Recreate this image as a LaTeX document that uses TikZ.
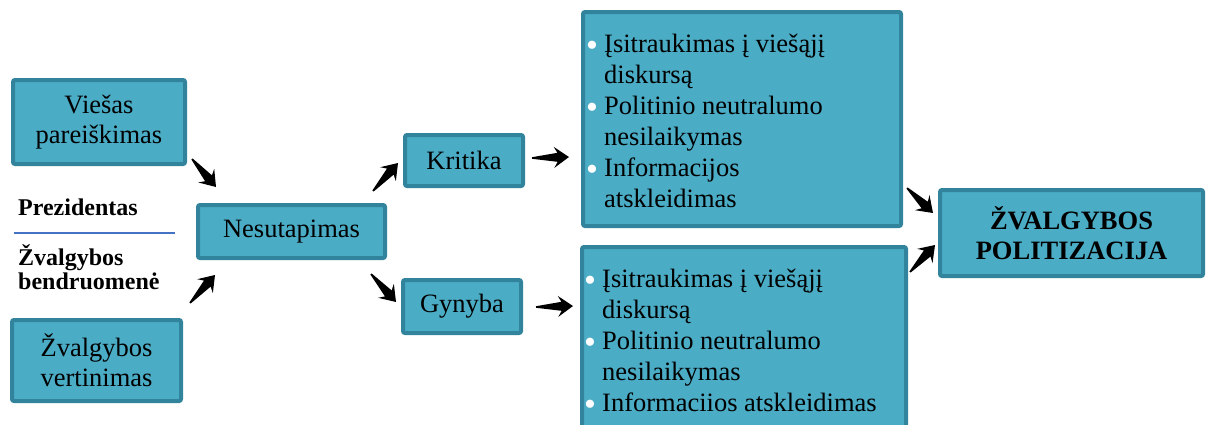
\documentclass[tikz,border=0pt]{standalone}
\usepackage{fontspec}
\setmainfont{LiberationSerif}[Extension=.ttf, UprightFont=*-Regular, BoldFont=*-Bold, ItalicFont=*-Italic, BoldItalicFont=*-BoldItalic]
\usetikzlibrary{calc}
\definecolor{boxfill}{HTML}{4BACC6}
\definecolor{boxline}{HTML}{31849B}
\definecolor{sepline}{HTML}{4472C4}
\newcommand\bul{\makebox[18pt][l]{\raisebox{-4.5pt}{\fontsize{34}{31}\selectfont\textcolor{white}{•}}}}
\newcommand\ind{\hspace*{18pt}}
\newcommand\blockarrow[2]{%
  \path ($(#2)!15pt!(#1)$) coordinate (hb) ($(#2)!11.5pt!(#1)$) coordinate (hs);
  \fill[black] ($(#1)!0.8pt!90:(#2)$) -- ($(hs)!4.5pt!90:(#2)$) -- ($(hb)!10.5pt!90:(#2)$) -- (#2)
     -- ($(hb)!10.5pt!-90:(#2)$) -- ($(hs)!4.5pt!-90:(#2)$) -- ($(#1)!0.8pt!-90:(#2)$) -- cycle;}
\begin{document}
\begin{tikzpicture}[x=1pt,y=-1pt,
  box/.style={draw=boxline, fill=boxfill, line width=4pt, rounded corners=2pt, inner sep=0pt,
    align=center, font=\fontsize{26.5}{30}\selectfont},
  lbl/.style={inner sep=0pt, anchor=base west, font=\bfseries\fontsize{24}{24}\selectfont},
  list/.style={inner sep=0pt, anchor=base west, font=\fontsize{26.5}{31}\selectfont},
  ]
\useasboundingbox (0,0) rectangle (1206,424);
\node[box, minimum width=172, minimum height=84] (v) at (99,122) {Viešas\\pareiškimas};
\node[box, minimum width=169, minimum height=81] (zv) at (96.5,360.5) {Žvalgybos\\vertinimas};
\node[box, minimum width=187, minimum height=53] (n) at (291.5,231.5) {Nesutapimas};
\node[box, minimum width=118, minimum height=51] (k) at (464,160.5) {Kritika};
\node[box, minimum width=118, minimum height=53] (g) at (462,306.5) {Gynyba};
\node[box, minimum width=318, minimum height=214] (kb) at (742,119) {};
\node[box, minimum width=324, minimum height=200] (gb) at (744,347) {};
\node[box, minimum width=263, minimum height=86, font=\bfseries\fontsize{26.5}{30}\selectfont] (p) at (1071.5,233) {ŽVALGYBOS\\POLITIZACIJA};

\node[list] (kt) at (586,52) {\vtop{\hbox{\bul Įsitraukimas į viešąjį}\hbox{\ind diskursą}\hbox{\bul Politinio neutralumo}\hbox{\ind nesilaikymas}\hbox{\bul Informacijos}\hbox{\ind atskleidimas}}};
\node[list] (gt) at (584,287) {\vtop{\hbox{\bul Įsitraukimas į viešąjį}\hbox{\ind diskursą}\hbox{\bul Politinio neutralumo}\hbox{\ind nesilaikymas}\hbox{\bul Informaciios atskleidimas}}};

\node[lbl] (pr) at (18,215) {Prezidentas};
\draw[sepline, line width=1.5pt] (14,233) -- (175,233);
\node[lbl] (zb) at (18,265) {\vtop{\hbox{Žvalgybos}\hbox{bendruomenė}}};

\coordinate (a1s) at (192,159); \coordinate (a1e) at (216,187);
\coordinate (a2s) at (190,303); \coordinate (a2e) at (215,275);
\coordinate (a3s) at (373,191); \coordinate (a3e) at (398,163);
\coordinate (a4s) at (371,274); \coordinate (a4e) at (396,302);
\coordinate (a5s) at (532,158); \coordinate (a5e) at (569,157);
\coordinate (a6s) at (536,307); \coordinate (a6e) at (573,306);
\coordinate (a7s) at (907,188); \coordinate (a7e) at (933,213);
\coordinate (a8s) at (910,272); \coordinate (a8e) at (935,245);
\blockarrow{a1s}{a1e}
\blockarrow{a2s}{a2e}
\blockarrow{a3s}{a3e}
\blockarrow{a4s}{a4e}
\blockarrow{a5s}{a5e}
\blockarrow{a6s}{a6e}
\blockarrow{a7s}{a7e}
\blockarrow{a8s}{a8e}
\end{tikzpicture}
\end{document}
